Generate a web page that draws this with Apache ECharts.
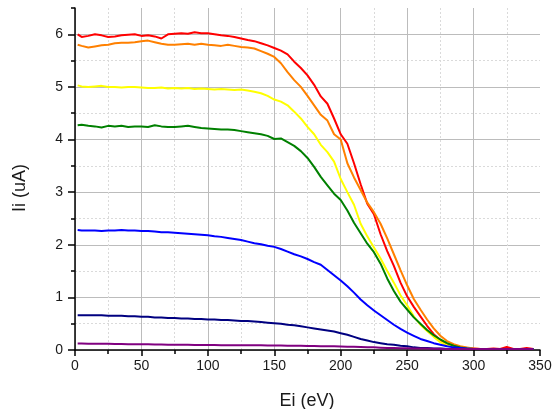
<!DOCTYPE html>
<html>
<head>
<meta charset="utf-8">
<script src="https://cdn.jsdelivr.net/npm/echarts@6/dist/echarts.min.js"></script>
<style>
html,body{margin:0;padding:0;background:#fff;}
#chart{width:555px;height:409px;}
</style>
</head>
<body>
<div id="chart"></div>
<script>
const eV = [2,5,10,15,20,25,30,35,40,45,50,55,60,65,70,75,80,85,90,95,100,105,110,115,120,125,130,135,140,145,150,155,160,165,170,175,180,185,190,195,200,205,210,215,220,225,230,235,240,245,250,255,260,265,270,275,280,285,290,295,300,305,310,315,320,325,330,335,340,345];

const red = [6.00,5.95,5.97,6.00,5.98,5.95,5.96,5.98,5.99,6.00,5.97,5.98,5.96,5.92,6.00,6.01,6.02,6.01,6.04,6.02,6.02,6.00,5.98,5.97,5.95,5.92,5.89,5.87,5.83,5.79,5.74,5.69,5.62,5.48,5.36,5.22,5.04,4.82,4.68,4.40,4.10,3.92,3.55,3.15,2.78,2.58,2.20,1.88,1.60,1.28,1.02,0.82,0.64,0.46,0.30,0.19,0.12,0.08,0.05,0.04,0.03,0.02,0.02,0.03,0.02,0.06,0.02,0.02,0.04,0.02];

const orange = [5.80,5.78,5.75,5.77,5.79,5.80,5.83,5.84,5.84,5.85,5.87,5.88,5.85,5.82,5.80,5.80,5.81,5.82,5.80,5.82,5.80,5.79,5.78,5.80,5.78,5.76,5.75,5.73,5.68,5.63,5.57,5.45,5.28,5.13,5.00,4.83,4.65,4.47,4.36,4.10,4.00,3.55,3.28,3.04,2.80,2.62,2.40,2.12,1.82,1.52,1.23,0.97,0.77,0.58,0.41,0.27,0.17,0.11,0.07,0.05,0.03,0.02,0.02,0.02,0.02,0.02,0.02,0.02,0.02,0.02];

const yellow = [5.03,5.01,5.00,5.01,5.02,5.00,5.00,4.99,5.00,5.00,4.99,4.98,4.98,4.99,4.97,4.98,4.97,4.98,4.96,4.97,4.96,4.95,4.96,4.95,4.94,4.95,4.93,4.91,4.88,4.83,4.76,4.72,4.65,4.53,4.40,4.24,4.10,3.90,3.76,3.58,3.25,3.00,2.76,2.40,2.16,1.95,1.74,1.50,1.28,1.04,0.85,0.64,0.48,0.36,0.25,0.15,0.09,0.06,0.04,0.03,0.02,0.02,0.02,0.02,0.02,0.02,0.02,0.02,0.02,0.02];

const green = [4.27,4.28,4.26,4.25,4.23,4.26,4.25,4.26,4.24,4.25,4.25,4.24,4.27,4.25,4.24,4.24,4.25,4.26,4.24,4.22,4.21,4.20,4.19,4.19,4.18,4.16,4.14,4.12,4.10,4.07,4.01,4.02,3.95,3.88,3.78,3.65,3.48,3.29,3.13,2.97,2.85,2.65,2.42,2.22,2.02,1.86,1.64,1.36,1.12,0.92,0.77,0.62,0.50,0.38,0.28,0.20,0.13,0.08,0.05,0.03,0.02,0.02,0.02,0.02,0.02,0.02,0.02,0.02,0.02,0.02];

const blue = [2.28,2.27,2.27,2.27,2.26,2.27,2.27,2.28,2.27,2.27,2.26,2.26,2.25,2.24,2.24,2.23,2.22,2.21,2.20,2.19,2.18,2.16,2.15,2.13,2.11,2.09,2.06,2.03,2.01,1.98,1.96,1.92,1.87,1.82,1.78,1.73,1.67,1.62,1.52,1.42,1.32,1.21,1.09,0.96,0.85,0.75,0.66,0.57,0.48,0.40,0.33,0.27,0.21,0.17,0.13,0.10,0.07,0.05,0.04,0.03,0.02,0.02,0.02,0.02,0.02,0.02,0.02,0.02,0.02,0.02];

const navy = [0.66,0.66,0.66,0.66,0.66,0.65,0.65,0.65,0.64,0.64,0.63,0.63,0.62,0.62,0.61,0.61,0.60,0.60,0.59,0.59,0.58,0.58,0.57,0.57,0.56,0.55,0.55,0.54,0.53,0.52,0.51,0.50,0.48,0.47,0.45,0.43,0.41,0.39,0.37,0.35,0.32,0.29,0.25,0.21,0.18,0.15,0.13,0.11,0.10,0.08,0.07,0.05,0.04,0.04,0.03,0.03,0.02,0.02,0.02,0.02,0.02,0.02,0.02,0.02,0.02,0.02,0.02,0.02,0.02,0.02];

const purple = [0.125,0.125,0.12,0.12,0.12,0.12,0.115,0.115,0.11,0.11,0.11,0.11,0.105,0.105,0.10,0.10,0.10,0.10,0.095,0.095,0.095,0.095,0.09,0.09,0.09,0.09,0.09,0.09,0.09,0.085,0.085,0.085,0.08,0.08,0.08,0.075,0.075,0.07,0.07,0.07,0.065,0.06,0.06,0.055,0.05,0.05,0.045,0.04,0.04,0.035,0.035,0.03,0.03,0.03,0.025,0.025,0.02,0.02,0.02,0.02,0.02,0.02,0.02,0.02,0.02,0.02,0.02,0.02,0.02,0.02];

const xTicks = [0,50,100,150,200,250,300,350];
const yTicks = [0,1,2,3,4,5,6];
const xTitle = 'Ei (eV)';
const yTitle = 'Ii (uA)';

const seriesDefs = [
  {name:'red', values:red, color:'#ff0000'},
  {name:'orange', values:orange, color:'#ff8000'},
  {name:'yellow', values:yellow, color:'#ffff00'},
  {name:'green', values:green, color:'#008000'},
  {name:'blue', values:blue, color:'#0000ff'},
  {name:'navy', values:navy, color:'#000080'},
  {name:'purple', values:purple, color:'#800080'}
];

const major = '#bcbcbc';
const minor = '#dadada';
const font = 'Liberation Sans, Arial, sans-serif';

function arr(n, c, last){ const a=[]; for(let i=0;i<n-1;i++) a.push(c); a.push(last); return a; }

const chart = echarts.init(document.getElementById('chart'), null, {renderer:'canvas'});
chart.setOption({
  animation:false,
  backgroundColor:'#ffffff',
  grid:{left:75, right:15, top:8, bottom:59, containLabel:false},
  xAxis:{
    type:'value', min:0, max:350, interval:50,
    axisLine:{show:true, onZero:false, lineStyle:{color:'#000', width:1.5}},
    axisTick:{show:true, length:6, lineStyle:{color:'#000', width:1.5}},
    minorTick:{show:true, splitNumber:2, length:4, lineStyle:{color:'#000', width:1.5}},
    axisLabel:{color:'#1a1a1a', fontSize:14, fontFamily:font, margin:9},
    splitLine:{show:true, lineStyle:{color:arr(xTicks.length, major, 'rgba(0,0,0,0)'), width:1}},
    minorSplitLine:{show:true, lineStyle:{color:minor, width:1, type:[2,2]}}
  },
  yAxis:[
    {
      type:'value', min:0, max:6.5, interval:0.5, position:'left',
      axisLine:{show:true, onZero:false, lineStyle:{color:'#000', width:1.5}},
      axisTick:{show:true, length:4, lineStyle:{color:'#000', width:1.5}},
      axisLabel:{show:false},
      splitLine:{show:true, lineStyle:{color:arr(14, minor, 'rgba(0,0,0,0)'), width:1, type:[2,2]}}
    },
    {
      type:'value', min:0, max:6.5, interval:1, position:'left',
      axisLine:{show:false},
      axisTick:{show:true, length:7, customValues:yTicks, lineStyle:{color:'#000', width:1.5}},
      axisLabel:{color:'#1a1a1a', fontSize:14, fontFamily:font, margin:12, customValues:yTicks},
      splitLine:{show:true, lineStyle:{color:arr(8, major, 'rgba(0,0,0,0)'), width:1}}
    }
  ],
  graphic:[
    {type:'text', position:[307, 401], style:{text:xTitle, font:'18px ' + font, fill:'#1a1a1a', textAlign:'center', textVerticalAlign:'middle'}},
    {type:'text', rotation:Math.PI/2, position:[20, 188], style:{text:yTitle, font:'18px ' + font, fill:'#1a1a1a', textAlign:'center', textVerticalAlign:'middle'}}
  ],
  series: seriesDefs.map(s => ({
    name:s.name, type:'line', xAxisIndex:0, yAxisIndex:0,
    data: eV.map((x,i)=>[x, s.values[i]]),
    showSymbol:false, symbol:'none', smooth:false,
    lineStyle:{color:s.color, width:2},
    itemStyle:{color:s.color},
    emphasis:{disabled:true}
  }))
});
</script>
</body>
</html>
